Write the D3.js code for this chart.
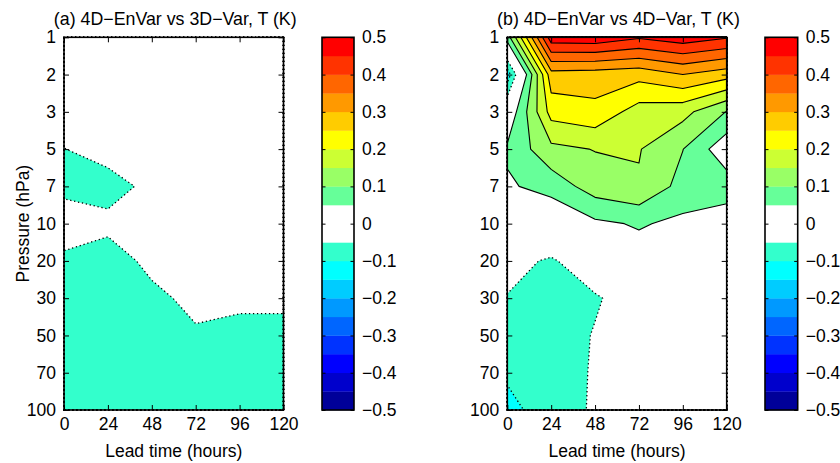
<!DOCTYPE html>
<html>
<head>
<meta charset="utf-8">
<script src="https://cdn.jsdelivr.net/npm/d3@7"></script>
<style>
  body { margin: 0; background: #fff; }
  text { font-family: "Liberation Sans", Arial, Helvetica, sans-serif; fill: #000; }
</style>
</head>
<body>
<svg id="chart" width="840" height="463"></svg>
<script>
// Forecast lead times (hours) and pressure levels (hPa) of the difference grids
const leadTimes = [0, 24, 48, 72, 96, 120];
const pressureLevels = [1, 2, 3, 5, 7, 10, 20, 30, 50, 70, 100];

// Contour band lower edges (K) and the fill colour of each band
const bandLower = d3.range(-10, 10).map(k => +(k * 0.05).toFixed(2));
const bandColors = [
  "#000099", "#0000cc", "#0000ff", "#0033ff", "#0066ff",
  "#0099ff", "#00ccff", "#00ffff", "#33ffcc", "#ffffff",
  "#ffffff", "#66ff99", "#99ff66", "#ccff33", "#ffff00",
  "#ffcc00", "#ff9900", "#ff6600", "#ff3300", "#ff0000"
];
const colorbarTicks = d3.range(-5, 6).map(k => +(k / 10).toFixed(1));

// Temperature difference (K); one row per pressure level, one column per lead time
const diff3DVar = [
  [ 0.010,  0.000,  0.010,  0.010,  0.010,  0.010],
  [-0.010, -0.010,  0.000,  0.000,  0.010,  0.010],
  [-0.020, -0.020, -0.010, -0.010,  0.000,  0.000],
  [-0.051, -0.030, -0.020, -0.010, -0.010, -0.010],
  [-0.058, -0.070, -0.037, -0.020, -0.020, -0.020],
  [-0.034, -0.037, -0.030, -0.020, -0.020, -0.020],
  [-0.056, -0.074, -0.037, -0.030, -0.030, -0.030],
  [-0.070, -0.080, -0.062, -0.037, -0.040, -0.040],
  [-0.080, -0.085, -0.070, -0.056, -0.064, -0.064],
  [-0.080, -0.080, -0.075, -0.070, -0.070, -0.070],
  [-0.075, -0.070, -0.070, -0.070, -0.070, -0.070]
];
const diff4DVar = [
  [ 0.075,  0.480,  0.485,  0.456,  0.479,  0.455],
  [-0.130,  0.280,  0.275,  0.267,  0.300,  0.271],
  [ 0.006,  0.219,  0.236,  0.178,  0.167,  0.098],
  [ 0.058,  0.137,  0.152,  0.153,  0.101,  0.015],
  [ 0.043,  0.069,  0.125,  0.145,  0.082,  0.077],
  [ 0.020,  0.004,  0.040,  0.055,  0.038,  0.019],
  [-0.035, -0.056, -0.017,  0.026,  0.020,  0.000],
  [-0.052, -0.070, -0.055, -0.026, -0.010, -0.010],
  [-0.070, -0.075, -0.047, -0.030, -0.020, -0.020],
  [-0.090, -0.075, -0.045, -0.030, -0.020, -0.020],
  [-0.120, -0.066, -0.046, -0.025, -0.020, -0.020]
];

const panelTitles = ["(a) 4D\u2212EnVar vs 3D\u2212Var, T (K)", "(b) 4D\u2212EnVar vs 4D\u2212Var, T (K)"];
const panelValues = [diff3DVar, diff4DVar];

// Layout
const plotTop = 37.3, plotBottom = 410;
const panels = [
  { left: 64,    right: 283.5, cbLeft: 322, cbRight: 354 },
  { left: 507.3, right: 726.7, cbLeft: 765, cbRight: 797.7 }
];
const fontSize = 17.5;
const titleSize = 17.8;
const tickLen = 5;

const svg = d3.select("#chart");

// Linear interpolation of a coordinate array at a fractional grid index
function gridValue(arr, idx) {
  const i = Math.max(0, Math.min(arr.length - 1, idx));
  const k = Math.min(Math.floor(i), arr.length - 2);
  return arr[k] + (arr[k + 1] - arr[k]) * (i - k);
}

const cbFormat = v => v === 0 ? "0" : d3.format(".1f")(v);

panels.forEach((p, pi) => {
  const g = svg.append("g");
  const x = d3.scaleLinear().domain([0, 120]).range([p.left, p.right]);
  const y = d3.scaleLinear().domain([0, pressureLevels.length - 1]).range([plotTop, plotBottom]);
  const levelIndex = pressureLevels.map((_, i) => i);

  // d3.contours places sample i at i + 0.5; shift back onto the sample grid
  const proj = d3.geoTransform({
    point(gx, gy) {
      this.stream.point(
        x(gridValue(leadTimes, gx - 0.5)),
        y(gridValue(levelIndex, gy - 0.5))
      );
    }
  });
  const path = d3.geoPath(proj);

  const values = panelValues[pi].flat();
  const contours = d3.contours()
    .size([leadTimes.length, pressureLevels.length])
    .smooth(true)
    .thresholds(bandLower)(values);

  // Filled bands, lowest first
  g.append("g").selectAll("path")
    .data(contours)
    .join("path")
    .attr("d", path)
    .attr("fill", (d, i) => bandColors[i])
    .attr("stroke", "none");

  // Contour lines: solid for positive levels, dotted for negative ones
  g.append("g").selectAll("path")
    .data(contours.filter(c => c.value !== 0 && c.value > -0.5))
    .join("path")
    .attr("d", path)
    .attr("fill", "none")
    .attr("stroke", "#000")
    .attr("stroke-width", d => d.value > 0 ? 1.1 : 1.3)
    .attr("stroke-dasharray", d => d.value > 0 ? null : "1.3 2.7")
    .attr("stroke-linejoin", "round");

  // Axes with inward ticks
  const axisLeft = d3.axisLeft(y).tickValues(levelIndex)
    .tickFormat(i => pressureLevels[i]).tickSizeInner(-tickLen).tickSizeOuter(0).tickPadding(8);
  const axisRight = d3.axisRight(y).tickValues(levelIndex)
    .tickFormat("").tickSizeInner(-tickLen).tickSizeOuter(0);
  const axisBottom = d3.axisBottom(x).tickValues(leadTimes)
    .tickSizeInner(-tickLen).tickSizeOuter(0).tickPadding(8);
  const axisTop = d3.axisTop(x).tickValues(leadTimes)
    .tickFormat("").tickSizeInner(-tickLen).tickSizeOuter(0);

  const styleAxis = sel => {
    sel.select(".domain").remove();
    sel.selectAll("text").attr("font-size", fontSize).attr("font-family", null).attr("fill", "#000");
    sel.selectAll("line").attr("stroke", "#000");
  };
  g.append("g").attr("transform", `translate(${p.left},0)`).call(axisLeft).call(styleAxis);
  g.append("g").attr("transform", `translate(${p.right},0)`).call(axisRight).call(styleAxis);
  g.append("g").attr("transform", `translate(0,${plotBottom})`).call(axisBottom).call(styleAxis);
  g.append("g").attr("transform", `translate(0,${plotTop})`).call(axisTop).call(styleAxis);

  g.append("rect")
    .attr("x", p.left).attr("y", plotTop)
    .attr("width", p.right - p.left).attr("height", plotBottom - plotTop)
    .attr("fill", "none").attr("stroke", "#000").attr("stroke-width", 1.6);

  // Titles and axis labels
  g.append("text")
    .attr("x", (p.left + p.right) / 2 + 1.5).attr("y", 25)
    .attr("text-anchor", "middle").attr("font-size", titleSize)
    .text(panelTitles[pi]);
  g.append("text")
    .attr("x", (p.left + p.right) / 2).attr("y", 457)
    .attr("text-anchor", "middle").attr("font-size", fontSize)
    .text("Lead time (hours)");
  if (pi === 0) {
    g.append("text")
      .attr("transform", `translate(29,${(plotTop + plotBottom) / 2}) rotate(-90)`)
      .attr("text-anchor", "middle").attr("font-size", fontSize)
      .text("Pressure (hPa)");
  }

  // Colour bar
  const cb = d3.scaleLinear().domain([-0.5, 0.5]).range([plotBottom, plotTop]);
  g.append("g").selectAll("rect")
    .data(bandLower)
    .join("rect")
    .attr("x", p.cbLeft)
    .attr("y", d => cb(d + 0.05))
    .attr("width", p.cbRight - p.cbLeft)
    .attr("height", d => cb(d) - cb(d + 0.05) + 0.3)
    .attr("fill", (d, i) => bandColors[i]);

  const cbAxisRight = d3.axisRight(cb).tickValues(colorbarTicks).tickFormat(cbFormat)
    .tickSizeInner(-3.5).tickSizeOuter(0).tickPadding(8);
  const cbAxisLeft = d3.axisLeft(cb).tickValues(colorbarTicks).tickFormat("")
    .tickSizeInner(-3.5).tickSizeOuter(0);
  g.append("g").attr("transform", `translate(${p.cbRight},0)`).call(cbAxisRight).call(styleAxis);
  g.append("g").attr("transform", `translate(${p.cbLeft},0)`).call(cbAxisLeft).call(styleAxis);
  g.append("rect")
    .attr("x", p.cbLeft).attr("y", plotTop)
    .attr("width", p.cbRight - p.cbLeft).attr("height", plotBottom - plotTop)
    .attr("fill", "none").attr("stroke", "#000").attr("stroke-width", 1.6);
});
</script>
</body>
</html>
